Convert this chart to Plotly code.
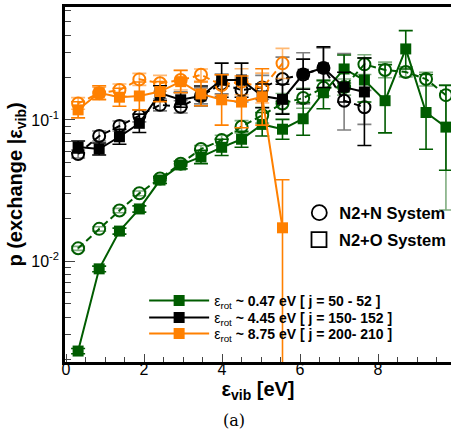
import plotly.graph_objects as go

# ---------------- data ----------------
vib_energy = [0.31, 0.85, 1.37, 1.88, 2.41, 2.94, 3.46, 3.99, 4.50, 5.03,
              5.55, 6.08, 6.60, 7.13, 7.65, 8.18, 8.71, 9.23, 9.74]

# N2+O system (squares)
o_low_y  = [0.0023, 0.0088, 0.0163, 0.0234, 0.0375, 0.048, 0.0547, 0.064, 0.073, 0.093,
            0.086, 0.102, 0.156, 0.230, 0.192, 0.137, 0.319, 0.113, 0.089]
o_low_lo = [0.0022, 0.0084, 0.0155, 0.0222, 0.0355, 0.045, 0.049, 0.056, 0.064, 0.077,
            0.073, 0.078, 0.120, 0.183, 0.134, 0.081, 0.230, 0.062, 0.044]
o_low_hi = [0.0024, 0.0092, 0.0171, 0.0246, 0.0395, 0.051, 0.061, 0.073, 0.083, 0.113,
            0.101, 0.133, 0.190, 0.289, 0.275, 0.247, 0.430, 0.210, 0.176]

o_mid_y  = [0.0644, 0.0622, 0.076, 0.0947, 0.155, 0.139, 0.148, 0.192, 0.192, 0.148,
            0.140, 0.211, 0.234, 0.171, 0.158]
o_mid_lo = [0.0584, 0.0564, 0.0673, 0.0816, 0.137, 0.123, 0.126, 0.145, 0.145, 0.122,
            0.110, 0.165, 0.170, 0.134, 0.066]
o_mid_hi = [0.0710, 0.0686, 0.0859, 0.110, 0.175, 0.157, 0.174, 0.253, 0.253, 0.180,
            0.179, 0.270, 0.330, 0.218, 0.275]

o_high_y  = [0.118, 0.156, 0.145, 0.148, 0.159, 0.187, 0.153, 0.139, 0.134, 0.146, 0.0172]
o_high_lo = [0.1035, 0.139, 0.125, 0.118, 0.135, 0.156, 0.126, 0.092, 0.088, 0.092, 0.0]
o_high_hi = [0.1345, 0.175, 0.168, 0.186, 0.187, 0.224, 0.186, 0.209, 0.205, 0.231, 0.0377]

# N2+N system (circles)
n_low_y  = [0.0123, 0.0169, 0.0228, 0.0302, 0.0385, 0.049, 0.0622, 0.072, 0.0896, 0.108,
            0.131, 0.143, 0.169, 0.171, 0.248, 0.226, 0.219, 0.195, 0.150]
n_low_lo = [0.0119, 0.0163, 0.0220, 0.0290, 0.0370, 0.047, 0.058, 0.066, 0.081, 0.095,
            0.111, 0.121, 0.148, 0.150, 0.210, 0.199, 0.202, 0.174, 0.023]
n_low_hi = [0.0127, 0.0175, 0.0236, 0.0314, 0.0400, 0.051, 0.066, 0.078, 0.099, 0.123,
            0.154, 0.168, 0.193, 0.195, 0.290, 0.257, 0.238, 0.218, 0.177]

n_mid_y  = [0.0574, 0.077, 0.0906, 0.107, 0.128, 0.124, 0.148, 0.180, 0.163, 0.170,
            0.195, 0.210, 0.234, 0.137, 0.123]
n_mid_lo = [0.0538, 0.071, 0.0835, 0.097, 0.116, 0.112, 0.130, 0.153, 0.134, 0.140,
            0.136, 0.130, 0.169, 0.085, 0.093]
n_mid_hi = [0.0612, 0.0835, 0.0983, 0.118, 0.141, 0.137, 0.169, 0.212, 0.198, 0.207,
            0.279, 0.300, 0.324, 0.296, 0.162]

n_high_y  = [0.131, 0.155, 0.163, 0.194, 0.182, 0.192, 0.209, 0.177, 0.187, 0.168, 0.252]
n_high_lo = [0.119, 0.1405, 0.148, 0.176, 0.160, 0.163, 0.189, 0.150, 0.151, 0.132, 0.197]
n_high_hi = [0.144, 0.171, 0.180, 0.214, 0.207, 0.226, 0.230, 0.208, 0.231, 0.215, 0.322]

legend_labels = ["ε<sub>rot</sub><b> ~ 0.47 eV [ j = 50 - 52 ]</b>",
                 "ε<sub>rot</sub><b> ~ 4.45 eV [ j = 150- 152 ]</b>",
                 "ε<sub>rot</sub><b> ~ 8.75 eV [ j = 200- 210 ]</b>"]
system_labels = ["<b>N2+N System</b>", "<b>N2+O System</b>"]

x_ticks = [0, 2, 4, 6, 8]
y_ticks = [0.01, 0.1]
y_ticktext = ["10<sup>-2</sup>", "10<sup>-1</sup>"]

# ---------------- styling ----------------
GREEN = "#005c00"
BLACK = "#000000"
ORANGE = "#ff8000"
GREEN_L = "rgba(0,92,0,0.5)"
BLACK_L = "rgba(0,0,0,0.5)"
ORANGE_L = "rgba(255,128,0,0.55)"
FONT = "Liberation Sans"

fig = go.Figure()


def add_series(y, lo, hi, color, barcolor, circle):
    n = len(y)
    plus = [h - v for h, v in zip(hi, y)]
    minus = [v - l for v, l in zip(y, lo)]
    if circle:
        marker = dict(symbol="circle-open", size=12, color=color, line=dict(color=color, width=2))
        line = dict(color=color, width=2, dash="7px,4px")
    else:
        marker = dict(symbol="square", size=11, color=color, line=dict(color=color, width=0))
        line = dict(color=color, width=2)
    fig.add_trace(go.Scatter(
        x=vib_energy[:n], y=y, mode="lines+markers", showlegend=False,
        line=line, marker=marker,
        error_y=dict(type="data", symmetric=False, array=plus, arrayminus=minus,
                     color=barcolor, thickness=1.6, width=7),
    ))


add_series(n_low_y, n_low_lo, n_low_hi, GREEN, GREEN_L, True)
add_series(n_mid_y, n_mid_lo, n_mid_hi, BLACK, BLACK_L, True)
add_series(n_high_y, n_high_lo, n_high_hi, ORANGE, ORANGE_L, True)
add_series(o_low_y, o_low_lo, o_low_hi, GREEN, GREEN, False)
add_series(o_mid_y, o_mid_lo, o_mid_hi, BLACK, BLACK, False)
add_series(o_high_y, o_high_lo, o_high_hi, ORANGE, ORANGE, False)

# legend entries: one small legend per row so rows can sit tightly
rot_legends = ["legend", "legend3", "legend4"]
rot_rows_y = [0.172, 0.124, 0.079]
for lab, col, lg in zip(legend_labels, [GREEN, BLACK, ORANGE], rot_legends):
    fig.add_trace(go.Scatter(
        x=[None], y=[None], mode="lines+markers", name=lab, legend=lg,
        line=dict(color=col, width=2),
        marker=dict(symbol="square", size=11, color=col)))

sys_legends = ["legend2", "legend5"]
sys_rows_y = [0.42, 0.344]
for lab, sym, lg in zip(system_labels, ["circle-open", "square-open"], sys_legends):
    fig.add_trace(go.Scatter(
        x=[None], y=[None], mode="markers", name=lab, legend=lg,
        marker=dict(symbol=sym, size=15, color=BLACK, line=dict(color=BLACK, width=1.8))))

layout_legends = {}
for lg, yy in zip(rot_legends, rot_rows_y):
    layout_legends[lg] = dict(x=0.205, y=yy, xanchor="left", yanchor="middle",
                              bgcolor="rgba(0,0,0,0)", font=dict(size=14, family=FONT),
                              itemwidth=60)
for lg, yy in zip(sys_legends, sys_rows_y):
    layout_legends[lg] = dict(x=0.607, y=yy, xanchor="left", yanchor="middle",
                              bgcolor="rgba(0,0,0,0)", font=dict(size=16.5, family=FONT),
                              itemwidth=30)

fig.update_layout(
    width=451, height=436,
    margin=dict(l=65, r=0, t=7, b=74),
    paper_bgcolor="white", plot_bgcolor="white",
    font=dict(family=FONT, color="black", size=16),
    xaxis=dict(
        range=[-0.026, 9.87], tickvals=x_ticks, ticks="inside", ticklen=8, tickwidth=1.2,
        showline=True, linewidth=2.5, linecolor="black", mirror=True,
        showgrid=False, zeroline=False, tickfont=dict(size=16), ticklabelstandoff=-9,
        minor=dict(dtick=0.5, ticks="inside", ticklen=5, tickwidth=1, showgrid=False),
        title=dict(text="<b>ε<sub>vib</sub> [eV]</b>", font=dict(size=20), standoff=0),
    ),
    yaxis=dict(
        type="log", range=[-2.716, -0.199], tickvals=y_ticks, ticktext=y_ticktext,
        ticks="inside", ticklen=10, tickwidth=1.2,
        showline=True, linewidth=2.5, linecolor="black", mirror=False,
        showgrid=False, zeroline=False, tickfont=dict(size=16),
        minor=dict(ticks="inside", ticklen=6, tickwidth=1, showgrid=False, dtick="D1"),
        title=dict(text="<b>p (exchange |ε<sub>vib</sub>)</b>", font=dict(size=20), standoff=4),
    ),
    annotations=[dict(text="(a)", xref="paper", yref="paper", x=(234 - 65) / 386, y=-0.165,
                      xanchor="center", yanchor="middle", showarrow=False,
                      font=dict(family="DejaVu Serif", size=16))],
    **layout_legends,
)

fig.write_html("out.html")
